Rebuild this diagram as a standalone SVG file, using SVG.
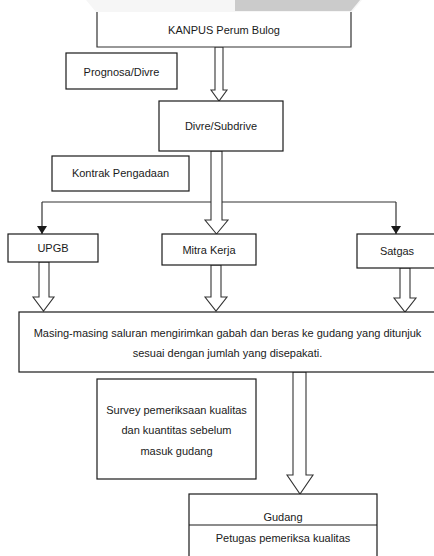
<svg xmlns="http://www.w3.org/2000/svg" width="434" height="556" viewBox="0 0 434 556">
<style>
.box{fill:#fff;stroke:#1a1a1a;stroke-width:1.2}
.t{font-family:"Liberation Sans",Arial,sans-serif;font-size:11px;fill:#1a1a1a;text-anchor:middle}
.blk{fill:#fff;stroke:#333;stroke-width:1.1;stroke-linejoin:miter}
.ln{fill:none;stroke:#333;stroke-width:1.2}
</style>
<defs>
<marker id="ah" viewBox="0 0 8 10" refX="8" refY="5" markerWidth="8" markerHeight="10" markerUnits="userSpaceOnUse" orient="auto">
<path d="M0,0 L8,5 L0,10 z" fill="#1a1a1a"/>
</marker>
</defs>
<rect width="434" height="556" fill="#fff"/>
<polygon points="86,0 362,0 352,12 96,12" fill="#f6f6f6"/>
<polygon points="235,0 360,0 351,11 235,11" fill="#cbcbcb"/>

<g id="connectors">
<path class="ln" d="M42,202 H396" />
<path class="ln" d="M42,202 V234" marker-end="url(#ah)"/>
<path class="ln" d="M396,202 V234" marker-end="url(#ah)"/>
<polygon class="blk" points="215,47 223,47 223,90 227,90 219,101 211,90 215,90"/>
<polygon class="blk" points="211,151 222,151 222,220 228,220 216.5,234 205,220 211,220"/>
<polygon class="blk" points="39,262 49,262 49,297 54,297 43.5,311 33,297 39,297"/>
<polygon class="blk" points="211,265 221,265 221,297 227,297 216,311 205,297 211,297"/>
<polygon class="blk" points="400,268 410,268 410,298 416,298 405,312 394,298 400,298"/>
<polygon class="blk" points="293,372 306,372 306,475 313,475 300,494 287,475 293,475"/>
</g>

<g id="kanpus">
<rect x="97" y="12" width="254" height="35" fill="#fff" stroke="none"/>
<path class="ln" d="M97,12 V47 H351 V12" stroke="#1a1a1a"/>
<text class="t" x="224" y="34">KANPUS Perum Bulog</text>
</g>
<g id="prognosa">
<rect class="box" x="66" y="53" width="111" height="36"/>
<text class="t" x="121.5" y="76">Prognosa/Divre</text>
</g>
<g id="divre">
<rect class="box" x="159" y="101" width="124" height="50"/>
<text class="t" x="221" y="130">Divre/Subdrive</text>
</g>
<g id="kontrak">
<rect class="box" x="52" y="156" width="137" height="35"/>
<text class="t" x="120.5" y="177">Kontrak Pengadaan</text>
</g>
<g id="upgb">
<rect class="box" x="8" y="234" width="90" height="28"/>
<text class="t" x="53" y="252">UPGB</text>
</g>
<g id="mitra">
<rect class="box" x="162" y="234" width="94" height="31"/>
<text class="t" x="209" y="254">Mitra Kerja</text>
</g>
<g id="satgas">
<rect class="box" x="357" y="234" width="90" height="34"/>
<text class="t" x="397" y="255">Satgas</text>
</g>
<g id="saluran">
<rect class="box" x="19" y="312" width="430" height="60"/>
<text class="t" x="227.5" y="337">Masing-masing saluran mengirimkan gabah dan beras ke gudang yang ditunjuk</text>
<text class="t" x="227.5" y="357">sesuai dengan jumlah yang disepakati.</text>
</g>
<g id="survey">
<rect class="box" x="97" y="379" width="159" height="100"/>
<text class="t" x="176.5" y="414">Survey pemeriksaan kualitas</text>
<text class="t" x="176.5" y="434">dan kuantitas sebelum</text>
<text class="t" x="176.5" y="455">masuk gudang</text>
</g>
<g id="gudang">
<rect class="box" x="189" y="494" width="188" height="70"/>
<line x1="189" y1="525" x2="377" y2="525" stroke="#1a1a1a" stroke-width="1.2"/>
<text class="t" x="283" y="521">Gudang</text>
<text class="t" x="283" y="542">Petugas pemeriksa kualitas</text>
</g>
</svg>
